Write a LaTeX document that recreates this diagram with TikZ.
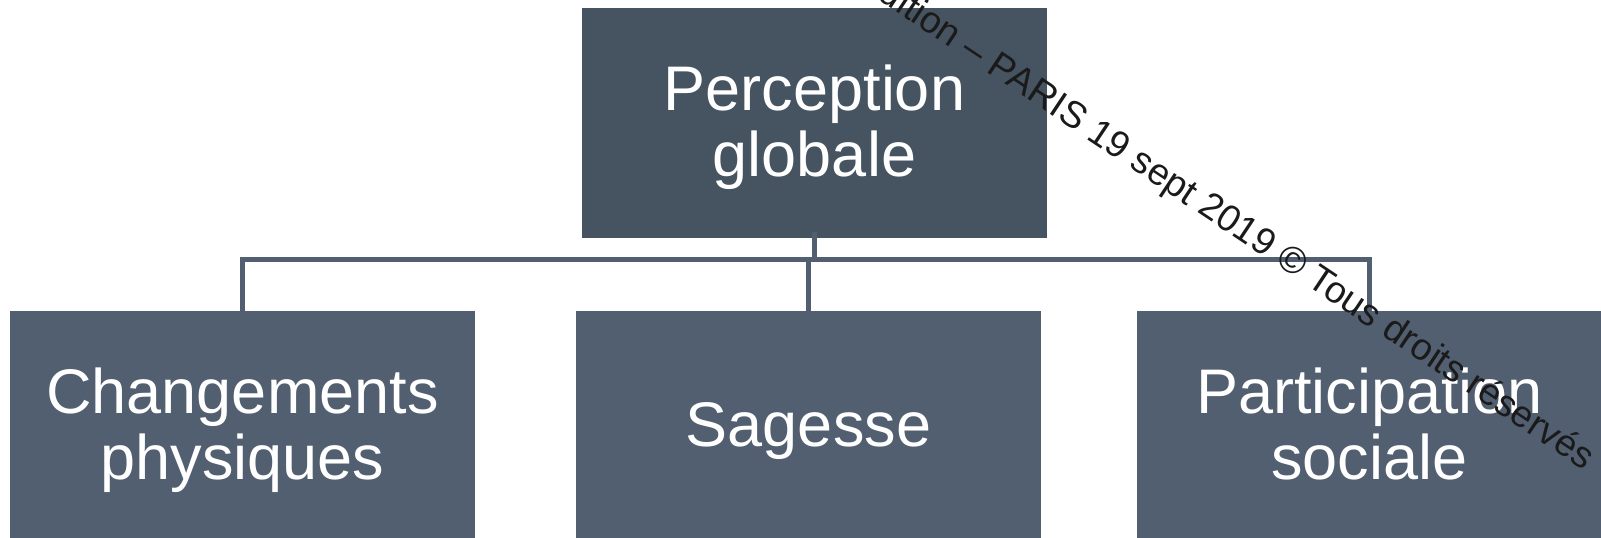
\documentclass[tikz,border=0pt]{standalone}
\usepackage{fontspec}
\setmainfont{Liberation Sans}
\definecolor{topbox}{HTML}{465361}
\definecolor{subbox}{HTML}{525F70}
\definecolor{linkcol}{HTML}{525F70}
\definecolor{wmcol}{HTML}{1A1A1A}
\newcommand\mytopstrut{\rule{0pt}{54pt}}
\newcommand\mybotstrut{\rule[-13pt]{0pt}{13pt}}
\tikzset{
  boxbase/.style={rectangle, inner sep=0pt, minimum width=465pt, minimum height=230pt,
    text=white, align=center, font=\fontsize{63}{66}\selectfont},
  topnode/.style={boxbase, fill=topbox},
  subnode/.style={boxbase, fill=subbox},
  link/.style={draw=linkcol, line width=5pt, line join=miter},
  watermark/.style={rotate=-33.7, font=\fontsize{37.4}{40}\selectfont, text=wmcol, inner sep=0pt}
}
\begin{document}
\begin{tikzpicture}[x=1pt,y=-1pt]
\useasboundingbox (0,0) rectangle (1601,538);
\clip (0,0) rectangle (1601,538);
\node[topnode] (top) at (814.5,123) {\mytopstrut Perception\\globale\mybotstrut};
\node[subnode] (b1) at (242.5,426) {\mytopstrut Changements\\physiques\mybotstrut};
\node[subnode] (b2) at (808.5,426) {\mytopstrut Sagesse\mybotstrut};
\node[subnode] (b3) at (1369.5,426) {\mytopstrut Participation\\sociale\mybotstrut};
\coordinate (busL) at (242,259.5);
\coordinate (busR) at (1369.5,259.5);
\coordinate (busM) at (808.5,259.5);
\coordinate (busT) at (814,259.5);
\draw[link] ([yshift=-4pt]b1.north -| busL) -- (busL) -- (busR) -- ([yshift=-4pt]b3.north -| busR);
\draw[link] (busM) -- ([yshift=-4pt]b2.north);
\draw[link] ([yshift=6pt]top.south -| busT) -- (busT);
\node[watermark] (wm) at (1227,217.5)
  {Édition – PARIS 19 sept 2019 © Tous droits réservés};
\end{tikzpicture}
\end{document}
